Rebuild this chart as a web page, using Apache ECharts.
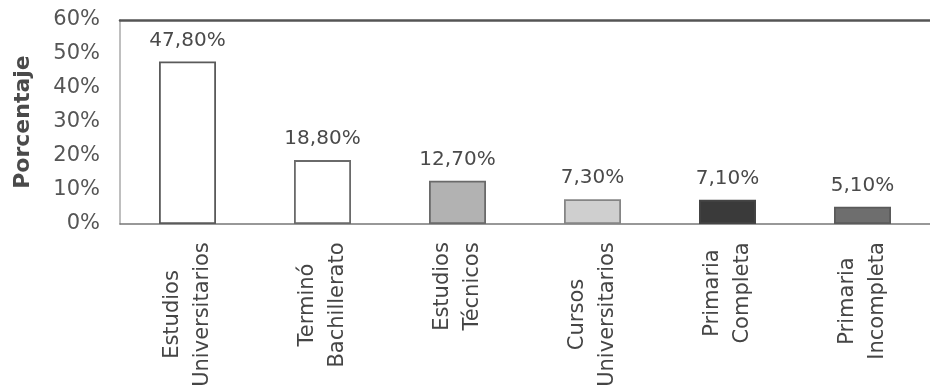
<!DOCTYPE html>
<html>
<head>
<meta charset="utf-8">
<style>
  html, body { margin: 0; padding: 0; background: #ffffff; }
  #chart { width: 930px; height: 390px; }
</style>
<script src="https://cdn.jsdelivr.net/npm/echarts@6/dist/echarts.min.js"></script>
</head>
<body>
<div id="chart"></div>
<script>
// Nivel educativo: porcentaje por categoría
const categories = [
  'Estudios\nUniversitarios',
  'Terminó\nBachillerato',
  'Estudios\nTécnicos',
  'Cursos\nUniversitarios',
  'Primaria\nCompleta',
  'Primaria\nIncompleta'
];
const values = [47.8, 18.8, 12.7, 7.3, 7.1, 5.1];
const barFills = ['#ffffff', '#ffffff', '#b2b2b2', '#cfcfcf', '#3a3a3a', '#6e6e6e'];
const barBorders = ['#5a5a5a', '#6a6a6a', '#6a6a6a', '#858585', '#444444', '#5a5a5a'];
const yTicks = { min: 0, max: 60, interval: 10 };
const yAxisName = 'Porcentaje';

const FONT = 'DejaVu Sans';
const CAT_FONT_SIZE = 21;

// measure the lines of each category label so they can be centred in one block
const measureCtx = document.createElement('canvas').getContext('2d');
measureCtx.font = CAT_FONT_SIZE + 'px "' + FONT + '"';
const catRich = {};
categories.forEach((c, i) => {
  const w = Math.max(...c.split('\n').map(l => measureCtx.measureText(l).width));
  catRich['c' + i] = {
    width: Math.ceil(w),
    align: 'center',
    fontFamily: FONT,
    fontSize: CAT_FONT_SIZE,
    lineHeight: 30,
    color: '#454545'
  };
});
const wrapLines = (text, idx) => {
  const i = categories.indexOf(text);
  return text.split('\n').map(l => '{c' + i + '|' + l + '}').join('\n');
};

const chart = echarts.init(document.getElementById('chart'), null, { renderer: 'canvas' });

chart.setOption({
  backgroundColor: '#ffffff',
  animation: false,
  grid: { left: 120, top: 20, width: 819, height: 209, containLabel: false },
  xAxis: [
    {
      type: 'category',
      data: categories,
      position: 'bottom',
      axisLine: { show: true, lineStyle: { color: '#777777', width: 1.5 } },
      axisTick: { show: false },
      axisLabel: {
        rotate: 90,
        margin: 18,
        interval: 0,
        formatter: wrapLines,
        rich: catRich
      }
    },
    {
      type: 'category',
      data: categories,
      position: 'top',
      axisLine: { show: true, lineStyle: { color: '#555555', width: 2.5 } },
      axisTick: { show: false },
      axisLabel: { show: false }
    }
  ],
  yAxis: {
    type: 'value',
    min: yTicks.min,
    max: yTicks.max,
    interval: yTicks.interval,
    name: yAxisName,
    nameLocation: 'middle',
    nameGap: 86,
    nameTextStyle: { fontFamily: FONT, fontSize: 22, fontWeight: 'bold', color: '#4a4a4a' },
    axisLine: { show: true, lineStyle: { color: '#aaaaaa', width: 1.5 } },
    axisTick: { show: false },
    splitLine: { show: false },
    axisLabel: {
      formatter: '{value}%',
      margin: 20,
      fontFamily: FONT,
      fontSize: 21,
      color: '#555555'
    }
  },
  series: [
    {
      type: 'bar',
      xAxisIndex: 0,
      barWidth: 57,
      data: values.map((v, i) => ({
        value: v,
        itemStyle: { color: barFills[i], borderColor: barBorders[i], borderWidth: 1.8 }
      })),
      label: {
        show: true,
        position: 'top',
        distance: 11,
        fontFamily: FONT,
        fontSize: 20,
        color: '#4a4a4a',
        formatter: (p) => p.value.toFixed(2).replace('.', ',') + '%'
      }
    }
  ]
});
</script>
</body>
</html>
